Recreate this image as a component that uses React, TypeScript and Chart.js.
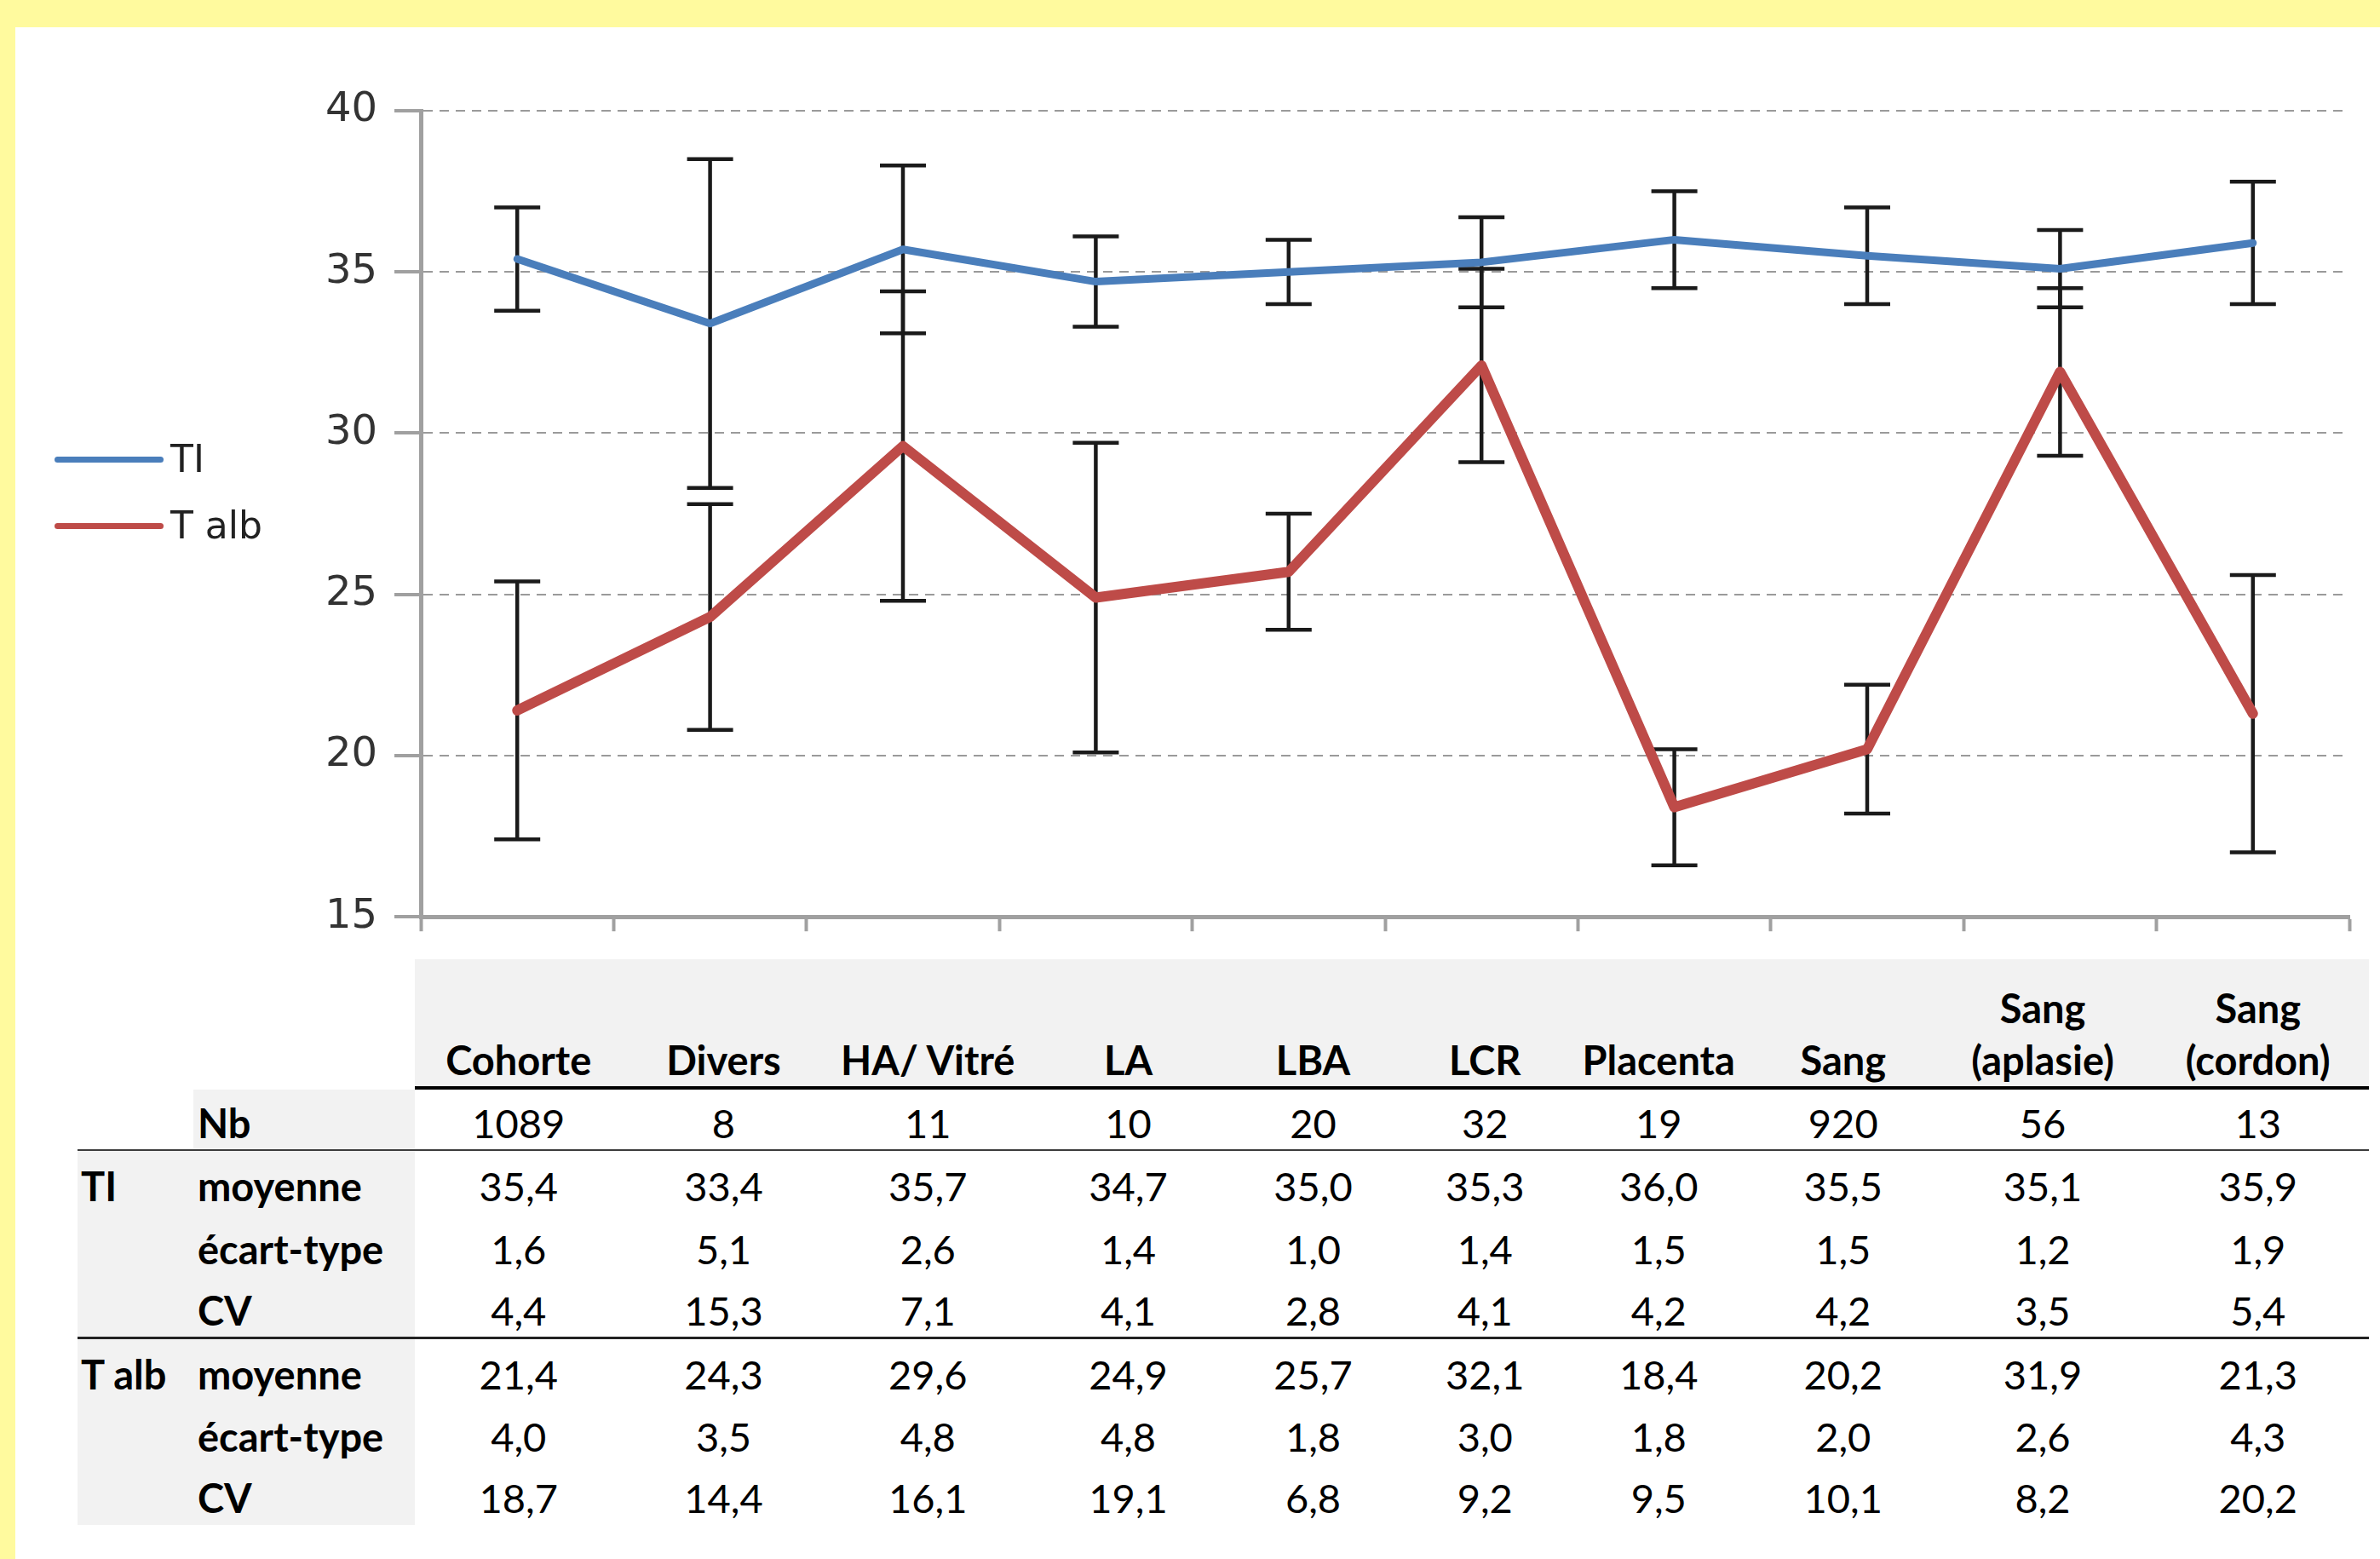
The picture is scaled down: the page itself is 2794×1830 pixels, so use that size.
import React, { useEffect, useRef } from "react";
import { Chart, registerables } from "chart.js";

Chart.register(...registerables);

// ---------------- DATA ----------------
const categories = [
  "Cohorte",
  "Divers",
  "HA/ Vitré",
  "LA",
  "LBA",
  "LCR",
  "Placenta",
  "Sang",
  "Sang (aplasie)",
  "Sang (cordon)",
];
const seriesNames = ["TI", "T alb"];
const seriesColors = ["#4A7EBB", "#BE4B48"];

const nb = [1089, 8, 11, 10, 20, 32, 19, 920, 56, 13];
const tiMean = [35.4, 33.4, 35.7, 34.7, 35.0, 35.3, 36.0, 35.5, 35.1, 35.9];
const tiSd = [1.6, 5.1, 2.6, 1.4, 1.0, 1.4, 1.5, 1.5, 1.2, 1.9];
const tiCv = [4.4, 15.3, 7.1, 4.1, 2.8, 4.1, 4.2, 4.2, 3.5, 5.4];
const talbMean = [21.4, 24.3, 29.6, 24.9, 25.7, 32.1, 18.4, 20.2, 31.9, 21.3];
const talbSd = [4.0, 3.5, 4.8, 4.8, 1.8, 3.0, 1.8, 2.0, 2.6, 4.3];
const talbCv = [18.7, 14.4, 16.1, 19.1, 6.8, 9.2, 9.5, 10.1, 8.2, 20.2];

const yMin = 15;
const yMax = 40;
const yStep = 5;

const rowLabels = ["moyenne", "écart-type", "CV"];

// ---------------- STYLE CONSTANTS ----------------
const YELLOW = "#FFFA9E";
const GRAY_BG = "#F2F2F2";
const TABLE_FONT = "Lato, 'Open Sans', sans-serif";
const FS = 47;
const colWidths = [243.5, 238, 241.5, 229, 205, 198.5, 209.5, 223.5, 245, 260.5];
const GROUP_LEFT = 91;
const GROUP_W = 136;
const LABEL_W = 260;
const DATA_LEFT = GROUP_LEFT + GROUP_W + LABEL_W; // 487

const fmt = (v: number) => v.toFixed(1).replace(".", ",");

const errorBarPlugin = {
  id: "errorBars",
  beforeDatasetsDraw(chart: any) {
    const { ctx } = chart;
    const ys = chart.scales.y;
    ctx.save();
    ctx.strokeStyle = "#1a1a1a";
    ctx.lineWidth = 4.5;
    ctx.lineCap = "butt";
    chart.data.datasets.forEach((ds: any, di: number) => {
      const meta = chart.getDatasetMeta(di);
      const errs: number[] = ds.errors || [];
      meta.data.forEach((pt: any, i: number) => {
        const v = ds.data[i] as number;
        const e = errs[i];
        if (e == null) return;
        const x = pt.x;
        const yt = ys.getPixelForValue(v + e);
        const yb = ys.getPixelForValue(v - e);
        const hw = 27;
        ctx.beginPath();
        ctx.moveTo(x, yt);
        ctx.lineTo(x, yb);
        ctx.moveTo(x - hw, yt);
        ctx.lineTo(x + hw, yt);
        ctx.moveTo(x - hw, yb);
        ctx.lineTo(x + hw, yb);
        ctx.stroke();
      });
    });
    ctx.restore();
  },
};

function ChartBox() {
  const ref = useRef<HTMLCanvasElement | null>(null);
  useEffect(() => {
    if (!ref.current) return;
    const chart = new Chart(ref.current, {
      type: "line",
      data: {
        labels: categories,
        datasets: [
          {
            label: seriesNames[0],
            data: tiMean,
            errors: tiSd,
            borderColor: seriesColors[0],
            backgroundColor: seriesColors[0],
            borderWidth: 9,
            pointRadius: 0,
            pointHoverRadius: 0,
            tension: 0,
            borderJoinStyle: "round",
            borderCapStyle: "round",
            fill: false,
          } as any,
          {
            label: seriesNames[1],
            data: talbMean,
            errors: talbSd,
            borderColor: seriesColors[1],
            backgroundColor: seriesColors[1],
            borderWidth: 12,
            pointRadius: 0,
            pointHoverRadius: 0,
            tension: 0,
            borderJoinStyle: "round",
            borderCapStyle: "round",
            fill: false,
          } as any,
        ],
      },
      options: {
        animation: false,
        responsive: true,
        maintainAspectRatio: false,
        events: [],
        layout: { padding: { left: 0, right: 36, top: 98, bottom: 20 } },
        plugins: { legend: { display: false }, tooltip: { enabled: false } },
        scales: {
          x: {
            type: "category",
            offset: true,
            grid: {
              offset: true,
              drawOnChartArea: false,
              drawTicks: true,
              tickLength: 17,
              tickWidth: 4,
              tickColor: "#A0A0A0",
              color: "#A0A0A0",
            },
            border: { display: true, color: "#A0A0A0", width: 5 },
            ticks: { display: false },
          },
          y: {
            min: yMin,
            max: yMax,
            ticks: {
              stepSize: yStep,
              color: "#333333",
              font: { family: "'DejaVu Sans', Verdana, sans-serif", size: 48 },
              padding: 20,
            },
            grid: {
              color: (c: any) => (c.tick && c.tick.value === yMin ? "rgba(0,0,0,0)" : "#9a9a9a"),
              lineWidth: 2,
              drawTicks: true,
              tickLength: 31,
              tickWidth: 4,
              tickColor: "#A0A0A0",
            },
            border: { display: true, color: "#A0A0A0", width: 5, dash: [11, 8] },
            afterFit: (s: any) => {
              s.width = 476;
            },
          } as any,
        },
      },
      plugins: [errorBarPlugin],
    });
    return () => chart.destroy();
  }, []);
  return <canvas ref={ref} />;
}

const cellBase: React.CSSProperties = {
  boxSizing: "border-box",
  height: "100%",
  display: "flex",
  alignItems: "center",
  paddingTop: 8,
  fontFamily: TABLE_FONT,
  fontSize: FS,
  color: "#000",
  whiteSpace: "nowrap",
};

function DataCells({ values }: { values: string[] }) {
  return (
    <>
      {values.map((v, i) => (
        <div key={i} style={{ ...cellBase, width: colWidths[i], justifyContent: "center" }}>
          {v}
        </div>
      ))}
    </>
  );
}

function Row({
  top,
  height,
  border,
  group,
  groupGray,
  label,
  values,
}: {
  top: number;
  height: number;
  border?: string;
  group: string;
  groupGray: boolean;
  label: string;
  values: string[];
}) {
  return (
    <div
      style={{
        position: "absolute",
        left: GROUP_LEFT,
        top,
        height,
        width: GROUP_W + LABEL_W + colWidths.reduce((a, b) => a + b, 0),
        boxSizing: "border-box",
        borderBottom: border || "none",
        display: "flex",
      }}
    >
      <div
        style={{
          ...cellBase,
          width: GROUP_W,
          paddingLeft: 4,
          fontWeight: 700,
          background: groupGray ? GRAY_BG : "transparent",
        }}
      >
        {group}
      </div>
      <div style={{ ...cellBase, width: LABEL_W, paddingLeft: 5, fontWeight: 700, background: GRAY_BG }}>
        {label}
      </div>
      <DataCells values={values} />
    </div>
  );
}

export default function App() {
  const tiRows = [tiMean, tiSd, tiCv];
  const talbRows = [talbMean, talbSd, talbCv];
  const tiTops = [1351, 1425, 1498];
  const tiHeights = [74, 73, 74];
  const talbTops = [1572, 1645, 1718];
  const talbHeights = [73, 73, 72];
  const dataWidth = colWidths.reduce((a, b) => a + b, 0);

  return (
    <div
      style={{
        position: "fixed",
        left: 0,
        top: 0,
        width: 2794,
        height: 1830,
        background: YELLOW,
        overflow: "hidden",
      }}
    >
      <div style={{ position: "absolute", left: 18, top: 32, right: 0, bottom: 0, background: "#fff" }} />

      {/* chart */}
      <div style={{ position: "absolute", left: 18, top: 32, width: 2776, height: 1093 }}>
        <ChartBox />
      </div>

      {/* legend */}
      {seriesNames.map((name, i) => (
        <div key={name} style={{ position: "absolute", left: 64, top: [539, 617][i] - 30, height: 60, display: "flex", alignItems: "center" }}>
          <div style={{ width: 128, height: 7, borderRadius: 4, background: seriesColors[i] }} />
          <div
            style={{
              marginLeft: 8,
              fontFamily: "'DejaVu Sans', Verdana, sans-serif",
              fontSize: 44,
              color: "#222",
              lineHeight: "60px",
            }}
          >
            {name}
          </div>
        </div>
      ))}

      {/* table header */}
      <div
        style={{
          position: "absolute",
          left: DATA_LEFT,
          top: 1126,
          width: dataWidth,
          height: 153,
          boxSizing: "border-box",
          background: GRAY_BG,
          borderBottom: "4px solid #000",
          display: "flex",
        }}
      >
        {categories.map((c, i) => (
          <div
            key={c}
            style={{
              width: colWidths[i],
              height: "100%",
              display: "flex",
              alignItems: "flex-end",
              justifyContent: "center",
              textAlign: "center",
              whiteSpace: "pre-line",
              fontFamily: TABLE_FONT,
              fontWeight: 700,
              fontSize: FS,
              lineHeight: "61px",
              color: "#000",
            }}
          >
            {c.replace(" (", "\n(")}
          </div>
        ))}
      </div>

      {/* Nb row */}
      <Row
        top={1279}
        height={72}
        border="2px solid #3c3c3c"
        group=""
        groupGray={false}
        label="Nb"
        values={nb.map((v) => String(v))}
      />

      {tiRows.map((arr, r) => (
        <Row
          key={"ti" + r}
          top={tiTops[r]}
          height={tiHeights[r]}
          border={r === 2 ? "3px solid #222" : undefined}
          group={r === 0 ? seriesNames[0] : ""}
          groupGray={true}
          label={rowLabels[r]}
          values={arr.map(fmt)}
        />
      ))}

      {talbRows.map((arr, r) => (
        <Row
          key={"talb" + r}
          top={talbTops[r]}
          height={talbHeights[r]}
          group={r === 0 ? seriesNames[1] : ""}
          groupGray={true}
          label={rowLabels[r]}
          values={arr.map(fmt)}
        />
      ))}
    </div>
  );
}
